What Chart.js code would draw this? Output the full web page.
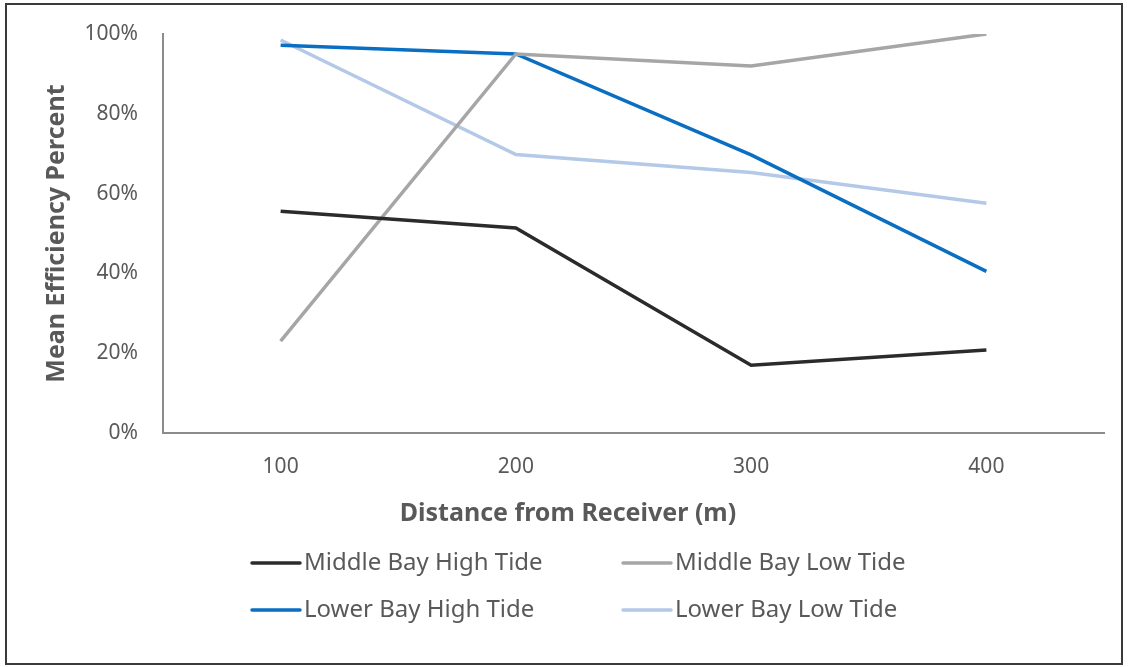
<!DOCTYPE html>
<html>
<head>
<meta charset="utf-8">
<script src="https://cdn.jsdelivr.net/npm/chart.js@4/dist/chart.umd.min.js"></script>
<style>
  html, body { margin: 0; padding: 0; background: #fff; }
  #wrap { position: relative; width: 1128px; height: 667px; overflow: hidden; }
  #frame {
    position: absolute; left: 5px; top: 3px; width: 1114px; height: 658px;
    border: 2px solid #3a3a3a; box-sizing: content-box;
  }
  #chart { position: absolute; left: 0; top: 0; }
</style>
</head>
<body>
<div id="wrap">
  <div id="frame"></div>
  <canvas id="chart" width="1128" height="667"></canvas>
</div>
<script>
// Distance categories (m)
const distances = ['100', '200', '300', '400'];

// Mean efficiency (%) per series
const middleBayHigh = [55.6, 51.4, 17.0, 20.8];
const middleBayLow = [23.0, 95.0, 92.0, 100.0];
const lowerBayHigh = [97.2, 95.0, 69.7, 40.5];
const lowerBayLow = [98.5, 69.8, 65.3, 57.6];

const yTicks = [0, 20, 40, 60, 80, 100];

const FONT = "'Noto Sans', 'Open Sans', sans-serif";
const TEXT = '#595959';

const series = [
  { label: 'Middle Bay High Tide', data: middleBayHigh, color: '#2b2b2b' },
  { label: 'Middle Bay Low Tide', data: middleBayLow, color: '#a6a6a6' },
  { label: 'Lower Bay High Tide', data: lowerBayHigh, color: '#0a6fc2' },
  { label: 'Lower Bay Low Tide', data: lowerBayLow, color: '#b4c8e8' },
];

// x axis title (centred on the whole figure) and two-column legend
const bottomBlock = {
  id: 'bottomBlock',
  afterDraw(chart) {
    const ctx = chart.ctx;
    ctx.save();
    ctx.fillStyle = TEXT;
    ctx.font = 'bold 25px ' + FONT;
    ctx.textAlign = 'center';
    ctx.textBaseline = 'middle';
    ctx.fillText('Distance from Receiver (m)', 568, 514);

    const cols = [250, 621];
    const rows = [563, 610];
    ctx.font = '24px ' + FONT;
    ctx.textAlign = 'left';
    chart.data.datasets.forEach((ds, i) => {
      const x = cols[i % 2];
      const y = rows[Math.floor(i / 2)];
      ctx.strokeStyle = ds.borderColor;
      ctx.lineWidth = 3.5;
      ctx.lineCap = 'round';
      ctx.beginPath();
      ctx.moveTo(x + 2, y);
      ctx.lineTo(x + 50, y);
      ctx.stroke();
      ctx.fillStyle = TEXT;
      ctx.fillText(ds.label, x + 54, y);
    });
    ctx.restore();
  },
};

new Chart(document.getElementById('chart'), {
  type: 'line',
  data: {
    labels: distances,
    datasets: series.map((s) => ({
      label: s.label,
      data: s.data,
      borderColor: s.color,
      backgroundColor: s.color,
      borderWidth: 3.5,
      pointRadius: 0,
      tension: 0,
      fill: false,
    })),
  },
  options: {
    responsive: false,
    animation: false,
    layout: {
      padding: { left: 0, right: 24, top: 34, bottom: 127 },
    },
    plugins: {
      legend: { display: false },
      tooltip: { enabled: false },
    },
    scales: {
      x: {
        offset: true,
        grid: { display: false, drawTicks: false },
        border: { display: true, color: '#8c8c8c', width: 2 },
        ticks: {
          color: TEXT,
          font: { family: FONT, size: 21 },
          padding: 21,
        },
        afterFit(scale) {
          scale.height = 107;
        },
      },
      y: {
        min: 0,
        max: 100,
        grid: { display: false, drawTicks: false },
        border: { display: true, color: '#8c8c8c', width: 2 },
        afterBuildTicks(scale) {
          scale.ticks = yTicks.map((v) => ({ value: v }));
        },
        ticks: {
          color: TEXT,
          font: { family: FONT, size: 21 },
          padding: 25,
          callback: (v) => v + '%',
        },
        title: {
          display: true,
          text: 'Mean Efficiency Percent',
          color: TEXT,
          font: { family: FONT, size: 25, weight: 'bold' },
          padding: { top: 42, bottom: 0 },
        },
        afterFit(scale) {
          scale.width = 163;
          // let the layout padding alone decide where the plot starts
          scale.paddingTop = 0;
          scale.paddingBottom = 0;
        },
      },
    },
  },
  plugins: [bottomBlock],
});
</script>
</body>
</html>
